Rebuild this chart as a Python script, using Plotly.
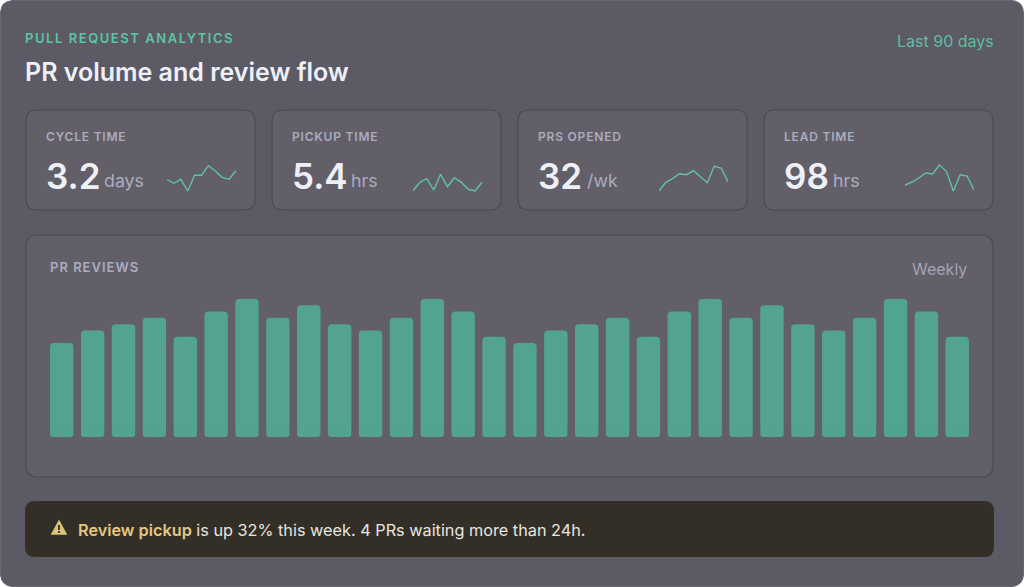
# PR analytics dashboard card, drawn on one page with pixel placed panels
import plotly.graph_objects as go

W, H = 1024, 587

# Bar panel data
weeks = list(range(1, 31))
reviews = [15, 17, 18, 19, 16, 20, 22, 19, 21, 18, 17, 19, 22, 20, 16,
           15, 17, 18, 19, 16, 20, 22, 19, 21, 18, 17, 19, 22, 20, 16]

# KPI tiles
kpi_labels = ["CYCLE TIME", "PICKUP TIME", "PRS OPENED", "LEAD TIME"]
kpi_values = ["3.2", "5.4", "32", "98"]
kpi_units = ["days", "hrs", "/wk", "hrs"]

# Sparkline readings
spark_cycle = [13.7, 9.7, 13.7, 2.0, 17.7, 17.7, 27.3, 22.0, 15.7, 13.7, 22.3]
spark_pickup = [2.3, 10.7, 14.3, 3.0, 18.7, 6.3, 15.3, 10.7, 3.7, 2.0, 10.7]
spark_opened = [2.3, 10.7, 14.7, 19.3, 18.3, 22.3, 16.3, 10.3, 26.7, 25.0, 11.3]
spark_lead = [8.0, 11.0, 15.0, 20.0, 19.0, 28.0, 21.7, 2.0, 18.3, 17.0, 3.0]
sparks = [spark_cycle, spark_pickup, spark_opened, spark_lead]

PAGE = "#FFFFFF"
CARD = "#5C5A64"
TILE = "#625F69"
EDGE = "#4D4B52"
GREEN = "#5FC4A3"
BAR = "#52A391"
LABEL = "#ABACBF"
WHITE = "#EEF0F8"
ALERT = "#332F27"
ICON = "#DDC37A"
FONT = "Inter"

TILE_X = [26, 272, 518, 764]
SPARK_X = [167, 413, 659, 905]
UNIT_X = [104, 351, 587, 833]


def px(x):
    return x / W


def py(y):
    return 1 - y / H


# Rounded rectangle as a paper-space svg path
def round_rect(x0, y0, x1, y1, r, fill, line=None):
    path = (
        f"M {px(x0 + r)} {py(y0)} L {px(x1 - r)} {py(y0)} "
        f"Q {px(x1)} {py(y0)} {px(x1)} {py(y0 + r)} L {px(x1)} {py(y1 - r)} "
        f"Q {px(x1)} {py(y1)} {px(x1 - r)} {py(y1)} L {px(x0 + r)} {py(y1)} "
        f"Q {px(x0)} {py(y1)} {px(x0)} {py(y1 - r)} L {px(x0)} {py(y0 + r)} "
        f"Q {px(x0)} {py(y0)} {px(x0 + r)} {py(y0)} Z"
    )
    return dict(type="path", xref="paper", yref="paper", path=path, fillcolor=fill,
                line=dict(color=line or fill, width=1.2 if line else 0), layer="below")


def label(x, y, text, size, color, weight=400, anchor="left"):
    return dict(xref="paper", yref="paper", x=px(x), y=py(y), text=text, showarrow=False,
                xanchor=anchor, yanchor="middle", align=anchor, borderpad=0, borderwidth=0,
                font=dict(family=FONT, size=size, color=color, weight=weight))


fig = go.Figure()

# Weekly bars, the second trace only rounds off the foot of each bar
fig.add_trace(go.Bar(x=weeks, y=[v - 0.5 for v in reviews], base=0.5,
                     marker=dict(color=BAR, line=dict(width=0)), xaxis="x", yaxis="y"))
fig.add_trace(go.Bar(x=weeks, y=[-1] * len(weeks), base=1,
                     marker=dict(color=BAR, line=dict(width=0)), xaxis="x", yaxis="y"))

hidden = dict(visible=False, fixedrange=True)
layout_axes = {
    "xaxis": dict(hidden, domain=[px(46.3), px(972.7)], range=[0.5, 30.5], anchor="y"),
    "yaxis": dict(hidden, domain=[py(437), py(286.5)], range=[0, 24], anchor="x"),
}

# Sparklines, one small axis pair per tile
for i, values in enumerate(sparks):
    n = i + 2
    fig.add_trace(go.Scatter(x=list(range(len(values))), y=values, mode="lines",
                             line=dict(color=GREEN, width=1.4),
                             xaxis=f"x{n}", yaxis=f"y{n}"))
    layout_axes[f"xaxis{n}"] = dict(hidden, domain=[px(SPARK_X[i]), px(SPARK_X[i] + 69)],
                                    range=[0, 10], anchor=f"y{n}")
    layout_axes[f"yaxis{n}"] = dict(hidden, domain=[py(193), py(163)], range=[0, 30],
                                    anchor=f"x{n}")

shapes = [
    round_rect(0.5, 0.5, W - 0.5, H - 0.5, 14, CARD, "#67656E"),
    round_rect(26, 235, 993, 477, 12, TILE, EDGE),
    round_rect(25, 501, 994, 557, 10, ALERT),
    # warning icon
    dict(type="path", xref="paper", yref="paper", fillcolor=ICON, layer="above",
         line=dict(color=ICON, width=1.5),
         path=f"M {px(59)} {py(521)} L {px(66)} {py(534)} L {px(52)} {py(534)} Z"),
    dict(type="rect", xref="paper", yref="paper", fillcolor=ALERT, layer="above",
         line=dict(width=0), x0=px(58.1), x1=px(59.9), y0=py(525), y1=py(530)),
    dict(type="rect", xref="paper", yref="paper", fillcolor=ALERT, layer="above",
         line=dict(width=0), x0=px(58.1), x1=px(59.9), y0=py(531), y1=py(533)),
]

annotations = [
    label(25, 38, "PULL REQUEST ANALYTICS", 13, GREEN, 600),
    label(25, 72, "PR volume and review flow", 25, WHITE, 600),
    label(994, 41, "Last 90 days", 16, "#5DBFA0", 400, "right"),
    label(50, 267, "PR REVIEWS", 13, LABEL, 600),
    label(967, 269, "Weekly", 16, "#A3A4B6", 400, "right"),
    label(78, 529.5, "<span style=\"color:#E3C77F;font-weight:600\">Review pickup</span>"
                     " is up 32% this week. 4 PRs waiting more than 24h.", 16.25, "#E8E6E0"),
]

for i in range(len(kpi_labels)):
    x = TILE_X[i]
    shapes.append(round_rect(x, 110, x + 229, 210, 11, TILE, EDGE))
    annotations.append(label(x + 19.5, 137, kpi_labels[i], 12, LABEL, 600))
    annotations.append(label(x + 19.5, 176.5, kpi_values[i], 35, WHITE, 600))
    annotations.append(label(UNIT_X[i], 180, kpi_units[i], 17.8, LABEL))

fig.update_layout(
    width=W,
    height=H,
    margin=dict(l=0, r=0, t=0, b=0),
    paper_bgcolor=PAGE,
    plot_bgcolor="rgba(0,0,0,0)",
    showlegend=False,
    barmode="overlay",
    bargap=0.24,
    barcornerradius=4,
    shapes=shapes,
    annotations=annotations,
    **layout_axes,
)

# Page margin off and letter spacing for the small caps labels (plotly has no attribute for it)
post = """
document.body.style.margin = '0';
document.querySelectorAll('.annotation-text').forEach(function (t) {
    var s = t.textContent;
    if (s === 'PULL REQUEST ANALYTICS') t.style.letterSpacing = '1.55px';
    else if (s === 'PR REVIEWS') t.style.letterSpacing = '1px';
    else if (/^[A-Z ]+$/.test(s)) t.style.letterSpacing = '0.8px';
});
"""

fig.write_html("out.html", config={"displayModeBar": False}, post_script=post)
